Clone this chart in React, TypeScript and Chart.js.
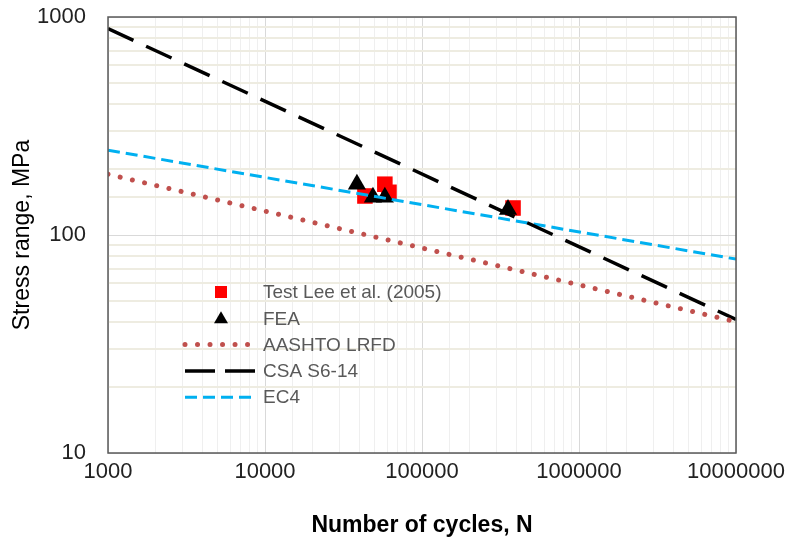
import React, { useEffect, useRef } from "react";
import { Chart, registerables } from "chart.js";

Chart.register(...registerables);

// ---- data ----
const testN = [43300, 58000, 61600, 380000];
const testS = [151, 171, 157, 133];
const feaN = [38500, 48700, 58000, 353000];
const feaS = [171, 149, 149, 131];
const lineN = [1000, 10000000];
const aashtoS = [190, 40];
const csaS = [885, 41];
const ec4S = [245, 77.5];
const xTickLabels = ["1000", "10000", "100000", "1000000", "10000000"];
const yTickLabels = ["10", "100", "1000"];
const legendLabels = ["Test Lee et al. (2005)", "FEA", "AASHTO LRFD", "CSA S6-14", "EC4"];

const FONT = "'Liberation Sans', Arial, sans-serif";

const isDecade = (v: number) => {
  const l = Math.log10(v);
  return Math.abs(l - Math.round(l)) < 1e-9;
};

const pts = (xs: number[], ys: number[]) => xs.map((x, i) => ({ x, y: ys[i] }));

const frameAndLegend = {
  id: "frameAndLegend",
  afterDraw(chart: any) {
    const { ctx, chartArea } = chart;
    const { left, top, right, bottom } = chartArea;
    ctx.save();
    // plot border
    ctx.strokeStyle = "#595959";
    ctx.lineWidth = 1.5;
    ctx.setLineDash([]);
    ctx.strokeRect(left, top, right - left, bottom - top);

    // legend
    const lx0 = left + 77;
    const lx1 = left + 147;
    const mx = left + 113;
    const tx = left + 155;
    const ds = chart.data.datasets;
    ctx.font = `19px ${FONT}`;
    ctx.textBaseline = "middle";
    ctx.textAlign = "left";
    legendLabels.forEach((label, i) => {
      const y = top + 275 + i * 26.3;
      const d = ds[i];
      if (i === 0) {
        ctx.fillStyle = d.backgroundColor;
        ctx.fillRect(mx - 6, y - 6, 12, 12);
      } else if (i === 1) {
        ctx.fillStyle = d.backgroundColor;
        ctx.beginPath();
        ctx.moveTo(mx, y - 7);
        ctx.lineTo(mx + 7, y + 5);
        ctx.lineTo(mx - 7, y + 5);
        ctx.closePath();
        ctx.fill();
      } else {
        ctx.strokeStyle = d.borderColor;
        ctx.lineWidth = d.borderWidth;
        ctx.lineCap = d.borderCapStyle || "butt";
        ctx.setLineDash(d.legendDash || d.borderDash || []);
        ctx.beginPath();
        ctx.moveTo(lx0, y);
        ctx.lineTo(lx1, y);
        ctx.stroke();
        ctx.setLineDash([]);
      }
      ctx.fillStyle = "#595959";
      ctx.fillText(label, tx, y + 1);
    });
    ctx.restore();
  },
};

export default function App() {
  const ref = useRef<HTMLCanvasElement>(null);

  useEffect(() => {
    if (!ref.current) return;
    const chart = new Chart(ref.current, {
      type: "scatter",
      data: {
        datasets: [
          {
            label: legendLabels[0],
            data: pts(testN, testS),
            pointStyle: "rect",
            pointRadius: 11,
            backgroundColor: "#FF0000",
            borderWidth: 0,
            order: 2,
          },
          {
            label: legendLabels[1],
            data: pts(feaN, feaS),
            pointStyle: "triangle",
            pointRadius: 10.5,
            backgroundColor: "#000000",
            borderWidth: 0,
            order: 1,
          },
          {
            label: legendLabels[2],
            data: pts(lineN, aashtoS),
            showLine: true,
            pointRadius: 0,
            borderColor: "#C0504D",
            borderWidth: 5,
            borderCapStyle: "round",
            borderDash: [0.01, 12.5],
            order: 0,
          } as any,
          {
            label: legendLabels[3],
            data: pts(lineN, csaS),
            showLine: true,
            pointRadius: 0,
            borderColor: "#000000",
            borderWidth: 3.5,
            borderCapStyle: "butt",
            borderDash: [28, 14],
            legendDash: [30, 10],
            order: 0,
          } as any,
          {
            label: legendLabels[4],
            data: pts(lineN, ec4S),
            showLine: true,
            pointRadius: 0,
            borderColor: "#00B0F0",
            borderWidth: 3,
            borderCapStyle: "butt",
            borderDash: [12, 6],
            order: 0,
          } as any,
        ],
      },
      options: {
        responsive: false,
        animation: false,
        events: [],
        layout: { padding: { left: 0, top: 17, right: 55, bottom: 0 } },
        plugins: {
          legend: { display: false },
          tooltip: { enabled: false },
        },
        scales: {
          x: {
            type: "logarithmic",
            position: "bottom",
            min: 1000,
            max: 10000000,
            afterFit: (s: any) => {
              s.height = 93;
              s.paddingLeft = 0;
              s.paddingRight = 0;
            },
            border: { display: false },
            grid: {
              drawTicks: false,
              color: (c: any) => (c.tick && isDecade(c.tick.value) ? "#D9D9D9" : "#EFEFEF"),
              lineWidth: 1,
            },
            ticks: {
              autoSkip: false,
              maxRotation: 0,
              minRotation: 0,
              padding: 6,
              color: "#222222",
              font: { family: FONT, size: 22 },
              callback: (v: any) => {
                const n = Number(v);
                return isDecade(n) ? xTickLabels[Math.round(Math.log10(n)) - 3] : "";
              },
            },
            title: {
              display: true,
              text: "Number of cycles, N",
              color: "#000000",
              font: { family: FONT, size: 23, weight: "bold" },
              padding: { top: 0, bottom: 7 },
            },
          },
          y: {
            type: "logarithmic",
            position: "left",
            min: 10,
            max: 1000,
            afterFit: (s: any) => {
              s.width = 108;
              s.paddingTop = 0;
              s.paddingBottom = 0;
            },
            border: { display: false },
            grid: {
              drawTicks: false,
              color: (c: any) => (c.tick && isDecade(c.tick.value) ? "#D9D9D9" : "#EEECE1"),
              lineWidth: (c: any) => (c.tick && isDecade(c.tick.value) ? 1 : 2),
            },
            ticks: {
              autoSkip: false,
              padding: 22,
              color: "#222222",
              font: { family: FONT, size: 22 },
              callback: (v: any) => {
                const n = Number(v);
                return isDecade(n) ? yTickLabels[Math.round(Math.log10(n)) - 1] : "";
              },
            },
            title: {
              display: true,
              text: "Stress range, MPa",
              color: "#000000",
              font: { family: FONT, size: 23 },
              padding: { top: 9, bottom: 0 },
            },
          },
        },
      } as any,
      plugins: [frameAndLegend],
    });
    return () => chart.destroy();
  }, []);

  return (
    <div style={{ position: "absolute", left: 0, top: 0, width: 791, height: 546, background: "#ffffff" }}>
      <canvas ref={ref} width={791} height={546} style={{ width: 791, height: 546, display: "block" }} />
    </div>
  );
}
